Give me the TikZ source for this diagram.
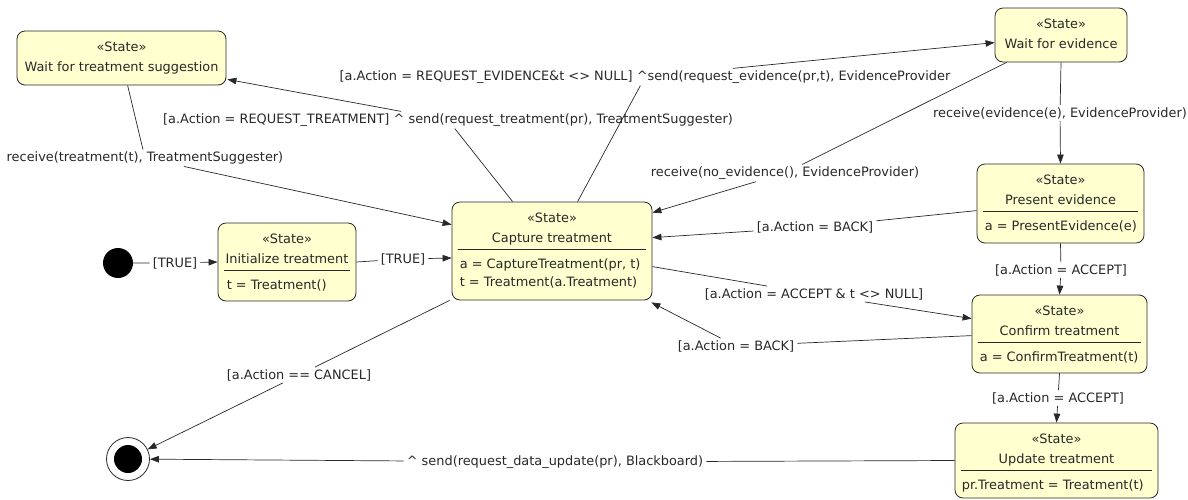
\documentclass[tikz,border=0pt]{standalone}
\usepackage{fontspec}
\setmainfont{DejaVu Sans}
\usetikzlibrary{arrows.meta,calc}
\definecolor{stfill}{RGB}{255,255,208}
\definecolor{ink}{RGB}{40,40,40}
\begin{document}
\begin{tikzpicture}[x=1pt,y=-1pt,
  font=\fontsize{12.9}{15}\selectfont,
  statebox/.style={draw=ink, fill=stfill, rounded corners=8pt, line width=0.8pt, inner sep=0pt},
  lbl/.style={inner xsep=3pt, inner ysep=2pt, text=ink},
  txt/.style={inner sep=0pt, text=ink, anchor=base},
  atxt/.style={inner sep=0pt, text=ink, anchor=base west},
  sepline/.style={draw=ink, line width=0.8pt},
  conn/.style={draw=ink, line width=0.7pt},
  arr/.style={conn, -{Triangle[length=9pt,width=6.5pt]}},
]
\useasboundingbox (0,0) rectangle (1188,499);

% ---- state boxes
\node[statebox, minimum width=209pt, minimum height=54pt] (wts) at (121.5,58) {};
\node[statebox, minimum width=132pt, minimum height=54pt] (wfe) at (1061,35) {};
\node[statebox, minimum width=167pt, minimum height=79pt] (pe) at (1060.5,203.5) {};
\node[statebox, minimum width=200pt, minimum height=98pt] (cap) at (552,251) {};
\node[statebox, minimum width=138pt, minimum height=78pt] (ib) at (287,262) {};
\node[statebox, minimum width=175pt, minimum height=78pt] (ct) at (1059.5,334) {};
\node[statebox, minimum width=203pt, minimum height=75pt] (ut) at (1056.5,460.5) {};

% ---- titles
\foreach \n/\t in {wts/Wait for treatment suggestion, wfe/Wait for evidence, pe/Present evidence, cap/Capture treatment, ib/Initialize treatment, ct/Confirm treatment, ut/Update treatment}{
  \node[txt] (\n-st) at ($(\n.north)+(0,20.5)$) {«State»};
  \node[txt] (\n-nm) at ($(\n.north)+(0,41)$) {\t};
}
% ---- separators and attributes
\foreach \n in {pe,cap,ib,ct,ut}{
  \draw[sepline] ($(\n.north west)+(6,48)$) -- ($(\n.north east)+(-6,48)$);
}
\node[atxt] (pe-a1) at ($(pe.north west)+(8,67)$) {a = PresentEvidence(e)};
\node[atxt] (cap-a1) at ($(cap.north west)+(8,67)$) {a = CaptureTreatment(pr, t)};
\node[atxt] (cap-a2) at ($(cap.north west)+(8,85)$) {t = Treatment(a.Treatment)};
\node[atxt] (ib-a1) at ($(ib.north west)+(9,67)$) {t = Treatment()};
\node[atxt] (ct-a1) at ($(ct.north west)+(8,67)$) {a = ConfirmTreatment(t)};
\node[atxt] (ut-a1) at ($(ut.north west)+(7,67)$) {pr.Treatment = Treatment(t)};

% ---- pseudo states
\node[circle, fill=black, minimum size=30pt, inner sep=0pt] (ini) at (118,263) {};
\node[circle, draw=ink, line width=0.8pt, minimum size=43pt, inner sep=0pt] (fin) at (128,459) {};
\fill[black] (fin.center) circle (14pt);

% ---- transition labels
\node[lbl] (l1) at (175,263) {[TRUE]};
\node[lbl] (l2) at (403,259) {[TRUE]};
\node[lbl] (l3) at (448,120) {[a.Action = REQUEST\_TREATMENT] \textasciicircum\ send(request\_treatment(pr), TreatmentSuggester)};
\node[lbl] (l4) at (145,158) {receive(treatment(t), TreatmentSuggester)};
\node[lbl] (l5) at (645,77) {[a.Action = REQUEST\_EVIDENCE\&t <> NULL] \textasciicircum send(request\_evidence(pr,t), EvidenceProvider};
\node[lbl] (l6) at (785,173) {receive(no\_evidence(), EvidenceProvider)};
\node[lbl] (l7) at (815,227) {[a.Action = BACK]};
\node[lbl] (l8) at (1060,113) {receive(evidence(e), EvidenceProvider)};
\node[lbl] (l9) at (1061,270) {[a.Action = ACCEPT]};
\node[lbl] (l10) at (814,294) {[a.Action = ACCEPT \& t <> NULL]};
\node[lbl] (l11) at (736,346) {[a.Action = BACK]};
\node[lbl] (l12) at (299,375) {[a.Action == CANCEL]};
\node[lbl] (l13) at (1058,398) {[a.Action = ACCEPT]};
\node[lbl] (l14) at (555,462) {\textasciicircum\ send(request\_data\_update(pr), Blackboard)};

% ---- transitions
\draw[arr] (ini) -- (l1) -- (ib.west);
\draw[arr] (ib.east) -- (l2) -- ($(cap.west)+(0,7)$);
\draw[arr] ($(cap.north west)+(61,0)$) -- (l3) -- ($(wts.south east)+(1,-6)$);
\draw[arr] ($(wts.south west)+(111,0)$) -- (l4) -- ($(cap.north west)+(0,23)$);
\draw[arr] ($(cap.north west)+(126,0)$) -- (l5) -- ($(wfe.north west)+(0,35)$);
\draw[arr] ($(wfe.south west)+(12,0)$) -- (l6) -- ($(cap.north east)+(0,11)$);
\draw[arr] ($(pe.north west)+(0,47)$) -- (l7) -- ($(cap.north east)+(0,36)$);
\draw[arr] (wfe.south) -- (l8) -- (pe.north);
\draw[arr] (pe.south) -- (l9) -- (ct.north);
\draw[arr] ($(cap.north east)+(0,65)$) -- (l10) -- ($(ct.north west)+(0,24)$);
\draw[arr] ($(ct.north west)+(0,41)$) -- (l11) -- ($(cap.south east)+(-1,2)$);
\draw[arr] ($(cap.south west)+(-2,0)$) -- (l12) -- (fin);
\draw[arr] (ct.south) -- (l13) -- (ut.north);
\draw[arr] (ut.west) -- (l14) -- (fin);
\end{tikzpicture}
\end{document}
